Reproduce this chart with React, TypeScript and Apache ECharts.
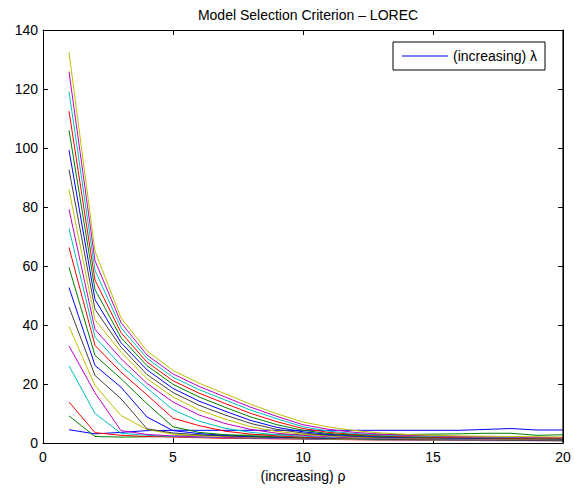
import React, { useEffect, useRef } from "react";
import * as echarts from "echarts";

const rho = [1, 2, 3, 4, 5, 6, 7, 8, 9, 10, 11, 12, 13, 14, 15, 16, 17, 18, 19, 20];

const lambda01 = [4.5, 3.1, 3.6, 4.2, 4.3, 4.3, 4.3, 4.3, 4.3, 4.3, 4.3, 4.3, 4.3, 4.3, 4.3, 4.3, 4.6, 4.9, 4.4, 4.4];
const lambda02 = [9.2, 2.2, 2.0, 2.1, 2.3, 2.5, 2.6, 2.7, 2.8, 2.8, 2.9, 2.9, 2.9, 2.9, 3.0, 3.1, 3.3, 3.3, 2.6, 2.8];
const lambda03 = [13.9, 3.5, 2.6, 2.2, 2.0, 1.8, 1.6, 1.5, 1.4, 1.3, 1.2, 1.1, 1.0, 1.0, 0.9, 0.9, 0.8, 0.8, 0.8, 0.7];
const lambda04 = [26.2, 10.0, 3.3, 2.6, 2.2, 2.0, 1.8, 1.7, 1.5, 1.4, 1.3, 1.2, 1.1, 1.1, 1.0, 1.0, 0.9, 0.9, 0.8, 0.8];
const lambda05 = [32.9, 17.0, 4.2, 2.9, 2.4, 2.1, 1.9, 1.8, 1.6, 1.5, 1.4, 1.3, 1.2, 1.1, 1.1, 1.0, 1.0, 0.9, 0.9, 0.9];
const lambda06 = [39.5, 19.5, 9.3, 4.6, 3.0, 2.5, 2.2, 2.0, 1.8, 1.6, 1.4, 1.3, 1.2, 1.2, 1.1, 1.1, 1.0, 1.0, 0.9, 0.9];
const lambda07 = [46.1, 22.9, 15.0, 4.8, 3.4, 2.8, 2.4, 2.1, 1.9, 1.7, 1.5, 1.4, 1.3, 1.2, 1.2, 1.1, 1.1, 1.0, 1.0, 0.9];
const lambda08 = [52.7, 26.3, 18.9, 8.8, 4.2, 3.2, 2.6, 2.2, 2.0, 1.8, 1.6, 1.5, 1.4, 1.3, 1.2, 1.2, 1.1, 1.1, 1.0, 1.0];
const lambda09 = [59.5, 29.7, 21.8, 13.3, 5.5, 3.6, 2.8, 2.4, 2.1, 1.9, 1.7, 1.5, 1.4, 1.3, 1.3, 1.2, 1.2, 1.1, 1.1, 1.0];
const lambda10 = [66.3, 33.1, 24.0, 16.3, 8.4, 5.9, 4.0, 3.0, 2.4, 2.0, 1.8, 1.6, 1.5, 1.4, 1.3, 1.3, 1.2, 1.2, 1.1, 1.1];
const lambda11 = [72.7, 35.9, 26.3, 18.6, 11.3, 7.4, 5.0, 3.6, 2.8, 2.3, 1.9, 1.7, 1.6, 1.5, 1.4, 1.3, 1.3, 1.2, 1.2, 1.1];
const lambda12 = [79.2, 38.5, 28.6, 20.2, 13.9, 9.5, 6.6, 4.6, 3.3, 2.6, 2.1, 1.8, 1.7, 1.6, 1.5, 1.4, 1.3, 1.3, 1.2, 1.2];
const lambda13 = [85.9, 41.8, 30.8, 21.8, 15.6, 11.2, 8.1, 5.5, 3.9, 3.0, 2.4, 2.0, 1.8, 1.7, 1.6, 1.5, 1.4, 1.3, 1.3, 1.2];
const lambda14 = [92.7, 45.3, 32.5, 23.2, 17.1, 12.8, 9.5, 6.6, 4.6, 3.4, 2.6, 2.2, 1.9, 1.8, 1.7, 1.6, 1.5, 1.4, 1.4, 1.3];
const lambda15 = [99.3, 48.6, 34.0, 24.8, 18.5, 14.2, 10.8, 7.6, 5.3, 3.8, 2.9, 2.4, 2.1, 1.9, 1.8, 1.7, 1.6, 1.5, 1.5, 1.4];
const lambda16 = [106.0, 52.0, 35.7, 26.2, 19.9, 15.6, 12.1, 8.8, 6.2, 4.3, 3.2, 2.6, 2.3, 2.0, 1.9, 1.8, 1.7, 1.6, 1.6, 1.5];
const lambda17 = [112.5, 55.2, 37.4, 27.4, 21.1, 16.9, 13.4, 10.0, 7.2, 4.9, 3.6, 2.9, 2.5, 2.2, 2.0, 1.9, 1.8, 1.7, 1.7, 1.6];
const lambda18 = [119.1, 58.5, 39.1, 28.7, 22.3, 18.1, 14.6, 11.1, 8.2, 5.5, 4.0, 3.2, 2.7, 2.4, 2.2, 2.1, 2.0, 1.9, 1.8, 1.8];
const lambda19 = [125.9, 61.8, 40.8, 29.8, 23.4, 19.2, 15.6, 12.1, 9.0, 6.2, 4.6, 3.6, 3.0, 2.6, 2.4, 2.2, 2.1, 2.0, 1.9, 1.9];
const lambda20 = [132.4, 65.0, 42.4, 31.2, 24.6, 20.3, 16.7, 13.1, 9.9, 7.1, 5.4, 4.2, 3.4, 2.9, 2.6, 2.4, 2.3, 2.2, 2.1, 2.0];

const allLines = [
  lambda01, lambda02, lambda03, lambda04, lambda05, lambda06, lambda07, lambda08, lambda09, lambda10,
  lambda11, lambda12, lambda13, lambda14, lambda15, lambda16, lambda17, lambda18, lambda19, lambda20,
];

const colorOrder = ["#0000ff", "#008000", "#ff0000", "#00bfbf", "#bf00bf", "#bfbf00", "#404040"];

const titleText = "Model Selection Criterion \u2013 LOREC";
const xName = "(increasing) \u03c1";
const legendName = "(increasing) \u03bb";

const FONT = "'Liberation Sans', Arial, Helvetica, sans-serif";

export default function App() {
  const ref = useRef<HTMLDivElement>(null);
  useEffect(() => {
    if (!ref.current) return;
    const chart = echarts.init(ref.current, undefined, { renderer: "svg" });
    const series: any[] = allLines.map((vals, i) => ({
      type: "line",
      name: i === 0 ? legendName : "\u03bb " + (i + 1),
      data: vals.map((v, k) => [rho[k], v]),
      symbol: "none",
      showSymbol: false,
      lineStyle: { width: 1, color: colorOrder[i % colorOrder.length] },
      itemStyle: { color: colorOrder[i % colorOrder.length] },
      xAxisIndex: 0,
      yAxisIndex: 0,
      z: 2,
    }));
    const tickStyle = { show: true, inside: true, length: 5, lineStyle: { color: "#000", width: 1 } };
    const lineStyle = { show: true, onZero: false, lineStyle: { color: "#000", width: 1 } };
    chart.setOption({
      animation: false,
      backgroundColor: "#ffffff",
      textStyle: { fontFamily: FONT },
      title: {
        text: titleText,
        left: 303,
        top: 3,
        textAlign: "center",
        textStyle: { fontFamily: FONT, fontSize: 14, fontWeight: "normal", color: "#000" },
      },
      legend: {
        data: [legendName],
        left: 393,
        top: 42,
        orient: "horizontal",
        backgroundColor: "#fff",
        borderColor: "#000",
        borderWidth: 1,
        padding: [7, 8, 7, 9],
        icon: "rect",
        itemWidth: 46,
        itemHeight: 1,
        itemStyle: { color: "#0000ff", borderWidth: 0 },
        textStyle: { fontFamily: FONT, fontSize: 14, color: "#000", lineHeight: 14 },
      },
      grid: {
        left: 43,
        right: 11,
        top: 30,
        bottom: 47,
        containLabel: false,
      },
      graphic: [
        {
          type: "line",
          z: 100,
          silent: true,
          shape: { x1: 43, y1: 30.5, x2: 563.5, y2: 30.5 },
          style: { stroke: "#000000", lineWidth: 1.2 },
        },
        {
          type: "line",
          z: 100,
          silent: true,
          shape: { x1: 563, y1: 30, x2: 563, y2: 443 },
          style: { stroke: "#000000", lineWidth: 1.2 },
        },
      ],
      xAxis: [
        {
          type: "value",
          min: 0,
          max: 20,
          interval: 5,
          name: xName,
          nameLocation: "middle",
          nameGap: 23,
          nameTextStyle: { fontFamily: FONT, fontSize: 14, color: "#000" },
          axisLine: lineStyle,
          axisTick: tickStyle,
          axisLabel: { fontFamily: FONT, fontSize: 14, color: "#000", margin: 7 },
          splitLine: { show: false },
        },
        {
          type: "value",
          position: "top",
          min: 0,
          max: 20,
          interval: 5,
          axisLine: lineStyle,
          axisTick: tickStyle,
          axisLabel: { show: false },
          splitLine: { show: false },
        },
      ],
      yAxis: [
        {
          type: "value",
          min: 0,
          max: 140,
          interval: 20,
          axisLine: lineStyle,
          axisTick: tickStyle,
          axisLabel: { fontFamily: FONT, fontSize: 14, color: "#000", margin: 5 },
          splitLine: { show: false },
        },
        {
          type: "value",
          position: "right",
          min: 0,
          max: 140,
          interval: 20,
          axisLine: lineStyle,
          axisTick: tickStyle,
          axisLabel: { show: false },
          splitLine: { show: false },
        },
      ],
      series,
    });
    return () => chart.dispose();
  }, []);
  return (
    <div
      ref={ref}
      style={{ position: "fixed", left: 0, top: 0, width: 574, height: 490, background: "#fff" }}
    />
  );
}
